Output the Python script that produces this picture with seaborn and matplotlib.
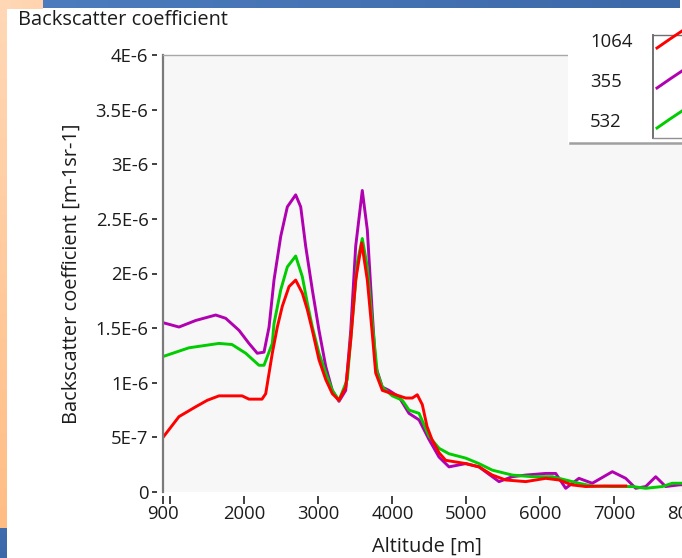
import numpy as np
import pandas as pd
import matplotlib
matplotlib.use("Agg")
import matplotlib.pyplot as plt
import seaborn as sns
from matplotlib.patches import Rectangle
from matplotlib.colors import LinearSegmentedColormap

# ---------------- data (values in 1E-6 m-1 sr-1) ----------------
alt_1064 = [900, 1116, 1342, 1500, 1657, 1968, 2062, 2238, 2288, 2377, 2445, 2512,
            2603, 2693, 2783, 2850, 2918, 3008, 3099, 3188, 3278, 3369, 3437, 3504,
            3585, 3661, 3728, 3774, 3864, 3999, 4180, 4269, 4336, 4404, 4468, 4535,
            4630, 4720, 4991, 5170, 5350, 5531, 5802, 6072, 6252, 6427, 6612, 6882, 7153]
val_1064 = [0.50, 0.69, 0.78, 0.84, 0.88, 0.88, 0.85, 0.85, 0.90, 1.27, 1.51, 1.70,
            1.88, 1.94, 1.82, 1.67, 1.48, 1.21, 1.03, 0.90, 0.84, 0.96, 1.39, 1.94,
            2.28, 1.94, 1.45, 1.09, 0.93, 0.90, 0.86, 0.86, 0.89, 0.80, 0.60, 0.48,
            0.36, 0.29, 0.26, 0.23, 0.155, 0.11, 0.095, 0.125, 0.11, 0.065, 0.05, 0.055, 0.055]

alt_355 = [900, 1116, 1342, 1612, 1747, 1927, 2062, 2174, 2265, 2333, 2400, 2491,
           2580, 2693, 2761, 2828, 2918, 3008, 3099, 3188, 3278, 3369, 3437, 3504,
           3593, 3661, 3728, 3774, 3864, 3954, 4089, 4224, 4360, 4495, 4630, 4765,
           4991, 5170, 5350, 5441, 5620, 5802, 6072, 6207, 6342, 6521, 6701, 6972,
           7153, 7288, 7423, 7558, 7693, 7872, 8000]
val_355 = [1.55, 1.51, 1.57, 1.62, 1.59, 1.48, 1.36, 1.27, 1.28, 1.51, 1.94, 2.34,
           2.61, 2.72, 2.61, 2.25, 1.85, 1.48, 1.15, 0.93, 0.83, 0.93, 1.48, 2.25,
           2.76, 2.40, 1.64, 1.15, 0.96, 0.93, 0.87, 0.72, 0.66, 0.48, 0.32, 0.23,
           0.26, 0.23, 0.14, 0.095, 0.14, 0.155, 0.17, 0.17, 0.034, 0.125, 0.08, 0.186,
           0.125, 0.034, 0.05, 0.14, 0.05, 0.065, 0.07]

alt_532 = [900, 1251, 1657, 1832, 2018, 2197, 2265, 2377, 2400, 2491, 2580, 2693,
           2783, 2850, 2918, 3008, 3099, 3188, 3278, 3391, 3458, 3526, 3593, 3661,
           3728, 3796, 3864, 3999, 4134, 4224, 4360, 4495, 4630, 4765, 4991, 5170,
           5350, 5620, 5891, 6161, 6342, 6521, 6701, 6972, 7243, 7423, 7648, 7782, 8000]
val_532 = [1.24, 1.32, 1.36, 1.35, 1.27, 1.16, 1.16, 1.36, 1.54, 1.85, 2.06, 2.16,
           1.97, 1.73, 1.51, 1.27, 1.09, 0.93, 0.84, 1.03, 1.57, 2.10, 2.32, 2.06,
           1.55, 1.09, 0.96, 0.88, 0.84, 0.75, 0.72, 0.51, 0.40, 0.35, 0.31, 0.26,
           0.20, 0.155, 0.14, 0.14, 0.11, 0.08, 0.055, 0.05, 0.05, 0.034, 0.05, 0.08, 0.08]

series_names = ["1064", "355", "532"]
series_colors = ["#FF0000", "#B000B0", "#00CC00"]
draw_order = ["355", "532", "1064"]

y_ticks = [0, 0.5e-6, 1e-6, 1.5e-6, 2e-6, 2.5e-6, 3e-6, 3.5e-6, 4e-6]
y_tick_labels = ["0", "5E-7", "1E-6", "1.5E-6", "2E-6", "2.5E-6", "3E-6", "3.5E-6", "4E-6"]
x_ticks = [900, 2000, 3000, 4000, 5000, 6000, 7000, 8000]
x_tick_labels = ["900", "2000", "3000", "4000", "5000", "6000", "7000", "8000"]
x_minor_ticks = [1000]

title_text = "Backscatter coefficient"
x_label = "Altitude [m]"
y_label = "Backscatter coefficient [m-1sr-1]"

# ---------------- dataframe ----------------
frames = []
for name, a, v in [("1064", alt_1064, val_1064), ("355", alt_355, val_355), ("532", alt_532, val_532)]:
    frames.append(pd.DataFrame({"alt": a, "beta": np.array(v) * 1e-6, "wl": name}))
df = pd.concat(frames, ignore_index=True)
palette = dict(zip(series_names, series_colors))

# ---------------- figure ----------------
W, H = 682, 558
fig = plt.figure(figsize=(W / 100, H / 100), dpi=100)
fig.patch.set_facecolor("white")
FONT = ["Open Sans", "DejaVu Sans"]
TXT = "#1c1c1c"
FS_TICK = 13.3
FS_LAB = 14.4

def px(x0, y0, x1, y1):
    return [x0 / W, 1 - y1 / H, (x1 - x0) / W, (y1 - y0) / H]

# decorative screenshot borders
def grad_axes(rect, c0, c1, vertical=True):
    a = fig.add_axes(rect, zorder=-5)
    cmap = LinearSegmentedColormap.from_list("g", [c0, c1])
    g = np.linspace(0, 1, 256)
    img = g[:, None] if vertical else g[None, :]
    a.imshow(img, aspect="auto", cmap=cmap, extent=[0, 1, 1, 0])
    a.set_axis_off()
    return a

grad_axes(px(0, 0, 7, 528), "#FFD8B6", "#FFBD84")
grad_axes(px(0, 0, 43, 9), "#FFD8B6", "#FFD4AE", vertical=False)
grad_axes(px(43, 0, 680, 8.5), "#4C7CBE", "#3D68A8", vertical=False)
grad_axes(px(0, 528, 7, 558), "#3F6DAE", "#3A68A8")

# main plot axes
left, top, bottom = 163, 55, 492
xmin, xmax = 900, 8600
ppx = 0.074  # px per metre
right = left + (xmax - xmin) * ppx
ax = fig.add_axes(px(left, top, right, bottom))
ax.set_facecolor("#F7F7F7")

sns.lineplot(data=df, x="alt", y="beta", hue="wl", hue_order=draw_order,
             palette=palette, sort=False, estimator=None, legend=False,
             linewidth=2.1, ax=ax)

ax.set_xlim(xmin, xmax)
ax.set_ylim(0, 4e-6)
ax.set_xlabel("")
ax.set_ylabel("")

for s in ["top", "right"]:
    ax.spines[s].set_visible(False)
ax.spines["left"].set_position(("outward", 4.3))
ax.spines["bottom"].set_position(("outward", 2.9))
ax.spines["left"].set_visible(False)
ax.spines["bottom"].set_visible(False)

ax.set_yticks(y_ticks)
ax.set_yticklabels(y_tick_labels, fontfamily=FONT, fontsize=FS_TICK, color=TXT)
ax.set_xticks(x_ticks)
ax.set_xticklabels(x_tick_labels, fontfamily=FONT, fontsize=FS_TICK, color=TXT)
ax.set_xticks(x_minor_ticks, minor=True)
ax.tick_params(axis="y", length=3.6, width=1.3, color="#333333", pad=2.5)
ax.tick_params(axis="x", which="both", length=5.8, width=1.3, color="#333333", pad=0.5)

# frame lines of plot area
ax.plot([0, 0], [0, 1], transform=ax.transAxes, color="#7A7A7A", lw=1.6, clip_on=False, zorder=5)
ax.plot([0, 1], [1, 1], transform=ax.transAxes, color="#A8A8A8", lw=1.0, clip_on=False, zorder=5)

# labels
fig.text(18 / W, 1 - 20 / H, title_text, fontfamily=FONT, fontsize=FS_LAB, color=TXT,
         ha="left", va="center")
fig.text(427 / W, 1 - 547 / H, x_label, fontfamily=FONT, fontsize=FS_LAB, color=TXT,
         ha="center", va="center")
fig.text(72 / W, 1 - 274 / H, y_label, fontfamily=FONT, fontsize=FS_LAB, color=TXT,
         ha="center", va="center", rotation=90)

# legend box (LabVIEW style)
lg = fig.add_axes(px(568, 20, 682, 144), zorder=10)
lg.set_facecolor("white")
lg.set_xlim(568, 682)
lg.set_ylim(144, 20)
lg.set_axis_off()
lg.add_patch(Rectangle((568, 20), 114, 124, facecolor="white", edgecolor="none"))
lg.plot([570, 682], [142.5, 142.5], color="#A0A0A0", lw=1.8, clip_on=False)
lg.plot([653, 653], [35, 138], color="#707070", lw=1.4)
lg.plot([653, 682], [35, 35], color="#707070", lw=1.0)
lg.plot([653, 682], [138, 138], color="#909090", lw=1.0)
label_y = [42, 82, 122]
for name, col, yy in zip(series_names, series_colors, label_y):
    lg.text(590, yy, name, fontfamily=FONT, fontsize=FS_TICK, color=TXT, ha="left", va="center")
    lg.plot([657, 670, 682], [yy + 6, yy - 3, yy - 11], color=col, lw=2.1, clip_on=False)

fig.savefig("out.png", dpi=100)
